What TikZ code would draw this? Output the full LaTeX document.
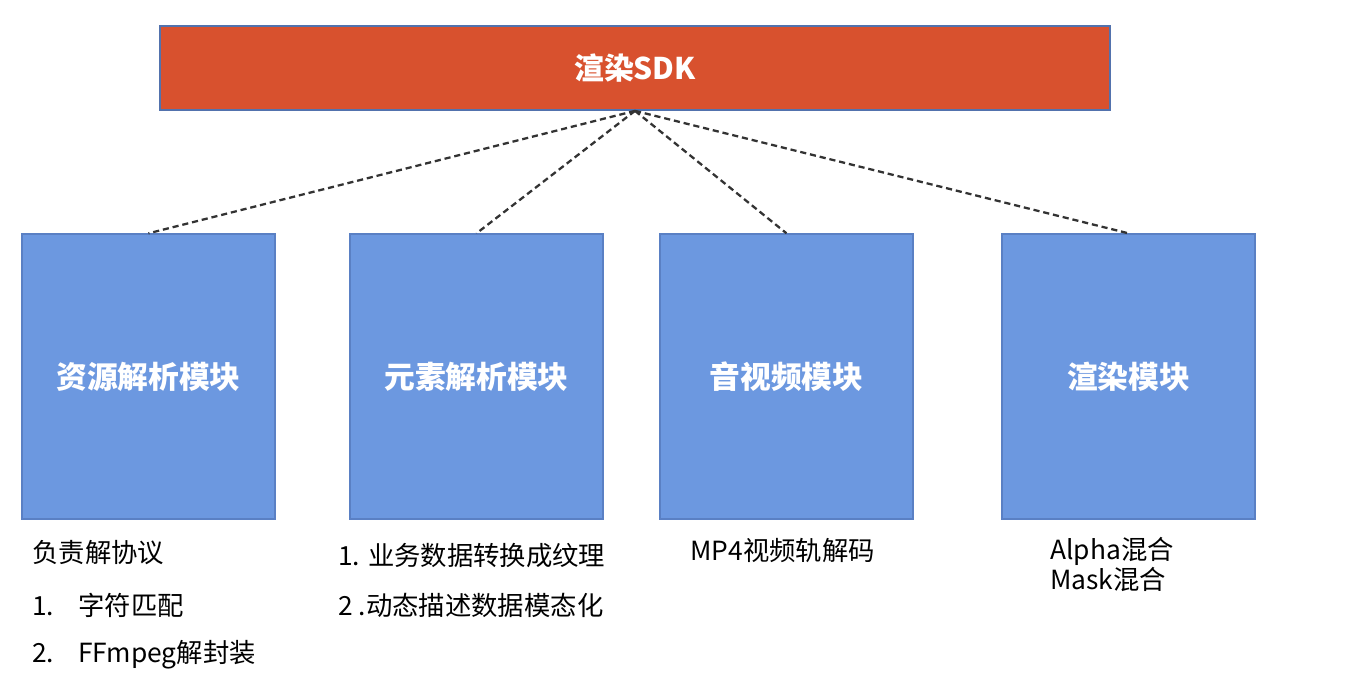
\documentclass[tikz,border=0pt]{standalone}
\usepackage{fontspec}
\setmainfont{Noto Sans CJK SC}
\usetikzlibrary{positioning}

\definecolor{sdkred}{HTML}{D8512E}
\definecolor{sdkedge}{HTML}{5272AD}
\definecolor{modblue}{HTML}{6C98E0}
\definecolor{modedge}{HTML}{5A80C4}
\definecolor{linkgray}{HTML}{333333}

\begin{document}
\begin{tikzpicture}[
  x=0.02cm, y=-0.02cm,
  sdk/.style={rectangle, draw=sdkedge, fill=sdkred, line width=1pt,
    minimum width=19cm, minimum height=1.68cm, text=white,
    font=\bfseries\fontsize{17}{20}\selectfont},
  module/.style={rectangle, draw=modedge, fill=modblue, line width=0.8pt,
    minimum width=5.06cm, minimum height=5.7cm, text=white,
    font=\bfseries\fontsize{17.5}{20}\selectfont},
  note/.style={anchor=west, inner sep=0pt, align=left,
    font=\fontsize{15}{17.6}\selectfont},
  link/.style={dash pattern=on 3.5pt off 2.2pt, line width=1.3pt, draw=linkgray}
]
\useasboundingbox (0,0) rectangle (1346,686);

\node[sdk] (sdk) at (635,68) {渲染SDK};

\node[module] (res) at (148.5,376.5) {资源解析模块};
\node[module] (elem) at (476.5,376.5) {元素解析模块};
\node[module] (av) at (786.5,376.5) {音视频模块};
\node[module] (render) at (1128.5,376.5) {渲染模块};

\draw[link] (sdk.south) -- (res.north);
\draw[link] (sdk.south) -- (elem.north);
\draw[link] (sdk.south) -- (av.north);
\draw[link] (sdk.south) -- (render.north);

% notes under the modules
\node[note] (res0) at (32,553) {负责解协议};
\node[note] (res1) at (32,605) {\makebox[0.92cm][l]{1.}字符匹配};
\node[note] (res2) at (32,655) {\makebox[0.92cm][l]{2.}FFmpeg解封装};
\node[note] (elem1) at (338,556) {1. 业务数据转换成纹理};
\node[note] (elem2) at (338,605) {2 .动态描述数据模态化};
\node[note] (av1) at (690,550) {MP4视频轨解码};
\node[note] (render1) at (1050,564.5) {Alpha混合\\Mask混合};

\end{tikzpicture}
\end{document}
